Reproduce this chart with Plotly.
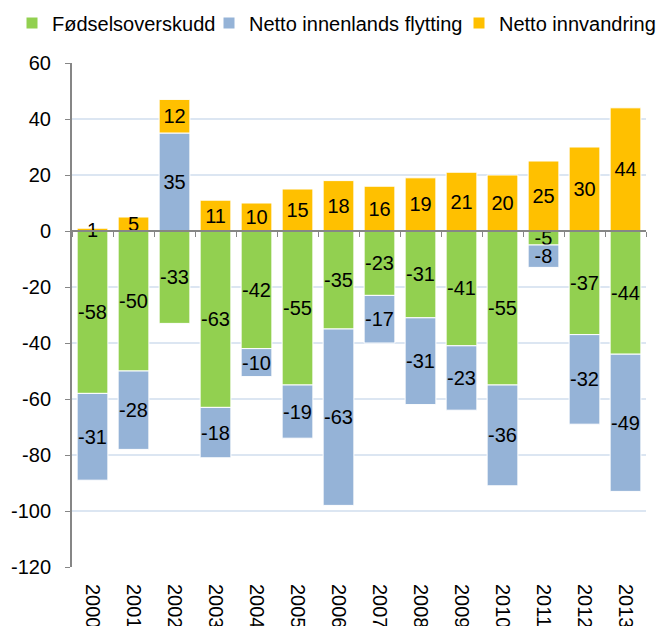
import plotly.graph_objects as go

years = [str(y) for y in range(2000, 2014)]
fodsel = [-58, -50, -33, -63, -42, -55, -35, -23, -31, -41, -55, -5, -37, -44]
innenlands = [-31, -28, 35, -18, -10, -19, -63, -17, -31, -23, -36, -8, -32, -49]
innvandring = [1, 5, 12, 11, 10, 15, 18, 16, 19, 21, 20, 25, 30, 44]

yticks = list(range(-120, 61, 20))
ytick_text = [str(v) for v in yticks]  # plain hyphen minus like the original

# figure is placed at (8, 8) in the page by the default body margin
W, H = 657, 618

series = [
    ("Fødselsoverskudd", fodsel, "#92d050", "legend", 4),
    ("Netto innenlands flytting", innenlands, "#95b3d7", "legend2", 201),
    ("Netto innvandring", innvandring, "#ffc000", "legend3", 451),
]

font_family = "Liberation Sans, Arial, sans-serif"

fig = go.Figure()
legends = {}
for name, vals, color, leg, lx in series:
    fig.add_trace(go.Bar(
        x=years, y=vals, name=name,
        legend=leg,
        marker=dict(color=color, line=dict(color="white", width=1)),
        text=[str(v) for v in vals],
        textposition="inside",
        insidetextanchor="middle",
        constraintext="none",
        textangle=0,
        textfont=dict(color="black", size=20, family=font_family),
    ))
    legends[leg] = dict(orientation="h", xref="container", yref="container",
                        x=lx / W, y=1 - 15 / H, xanchor="left", yanchor="middle",
                        font=dict(size=20), itemwidth=30,
                        borderwidth=0, bgcolor="rgba(0,0,0,0)")

fig.update_layout(
    width=W, height=H,
    barmode="relative",
    bargap=0.25,
    margin=dict(l=64, r=19, t=55, b=59, autoexpand=False),
    plot_bgcolor="white", paper_bgcolor="white",
    font=dict(family=font_family, size=20, color="black"),
    showlegend=True,
    **legends,
)
fig.update_yaxes(
    range=[-120, 60],
    tickmode="array", tickvals=yticks, ticktext=ytick_text,
    showgrid=True, gridcolor="#dce6f2", gridwidth=2,
    zeroline=False,
    showline=True, linecolor="#868686", linewidth=2,
    ticks="outside", ticklen=5, tickcolor="#868686",
    ticklabelstandoff=10,
    tickfont=dict(size=20),
)
fig.update_xaxes(
    tickangle=90, showgrid=False, showline=False, ticks="",
    ticklabelstandoff=16,
    tickfont=dict(size=20),
)
# zero-level category axis line with boundary ticks
zero_frac = 120 / 180
fig.update_layout(xaxis2=dict(
    overlaying="x", matches="x", anchor="free", position=zero_frac,
    side="bottom", showline=True, linecolor="#868686", linewidth=2,
    ticks="outside", ticklen=5, tickcolor="#868686", tickson="boundaries",
    showticklabels=False, showgrid=False,
))
fig.add_trace(go.Bar(x=years, y=[0] * len(years), xaxis="x2", showlegend=False,
                     hoverinfo="skip", marker=dict(color="rgba(0,0,0,0)")))

fig.write_html("out.html")
